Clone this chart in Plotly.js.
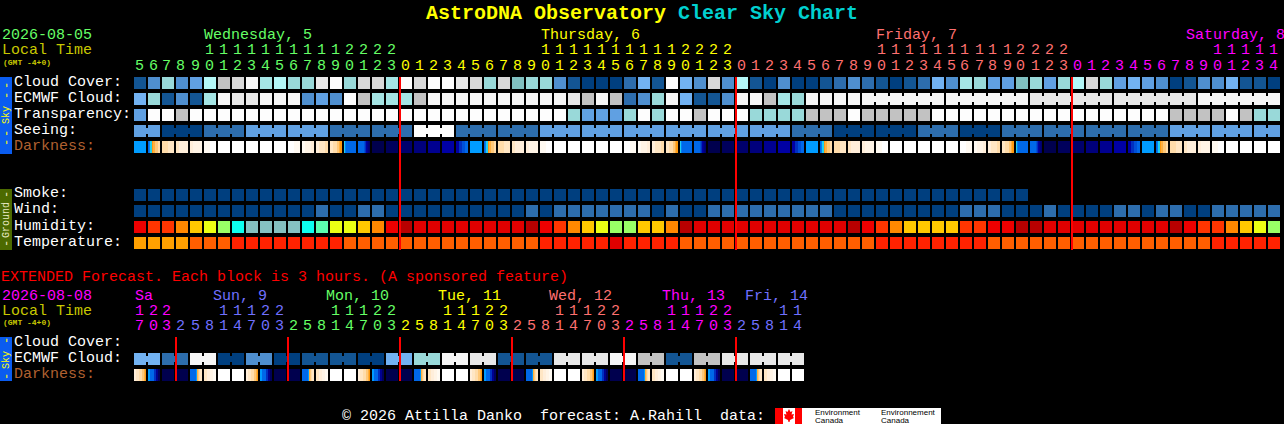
<!DOCTYPE html>
<html><head><meta charset="utf-8">
<script src="https://cdn.plot.ly/plotly-3.0.1.min.js"></script>
<style>html,body{margin:0;padding:0;background:#000;overflow:hidden}#c{width:1284px;height:424px}</style>
</head><body><div id="c"></div>
<script>
// ---------- data ----------
const hours = [5,6,7,8,9,10,11,12,13,14,15,16,17,18,19,20,21,22,23,
 0,1,2,3,4,5,6,7,8,9,10,11,12,13,14,15,16,17,18,19,20,21,22,23,
 0,1,2,3,4,5,6,7,8,9,10,11,12,13,14,15,16,17,18,19,20,21,22,23,
 0,1,2,3,4,5,6,7,8,9,10,11,12,13,14];
const extHours = [17,20,23, 2,5,8,11,14,17,20,23, 2,5,8,11,14,17,20,23, 2,5,8,11,14,17,20,23,
 2,5,8,11,14,17,20,23, 2,5,8,11,14,17,20,23, 2,5,8,11,14];
const cloud = [13,11,7,11,10,5,4,3,1,6,5,7,7,2,0,7,3,3,6,0,3,
 0,0,2,3,7,3,8,7,7,11,13,14,14,14,12,9,13,0,9,11,3,11,5,13,14,11,14,14,13,12,11,
 12,13,14,13,12,9,11,6,7,10,10,8,7,10,7,5,3,7,10,9,10,11,14,13,11,11,9,13,13,14];
const ecmwf = [9,7,13,11,13,6,1,2,2,1,1,1,11,10,11,0,4,6,6,6,4,
 1,1,1,1,1,1,1,1,1,1,2,4,1,4,12,11,7,1,9,13,13,11,1,1,4,6,7,1,1,1,1,
 1,1,1,1,1,1, 1,1,1,1,1,1, 2,2,2,2,2,2, 2,2,2,2,2,2, 1,1,1,1,1,1];
const ecmwfMerged = [[52,57],[58,63],[64,69],[70,75],[76,81]];
const transparency = [10,0,0,4,0,0,0,0,0,0,0,0,0,0,0,0,0,0,0,0,0,
 0,0,0,0,0,0,0,0,0,0,7,10,10,10,7,0,7,0,0,4,0,0,0,7,7,7,7,4,4,4,0,
 4,4,4,4,4,0,0,0,0,0,0,0,0,0,0,0,0,0,0,0,0,0,4,4,4,4,0,4,7,7];
const seeing = [10,10, 14,14,14, 12,12,12, 10,10,10, 10,10,10, 12,12,12, 12,12,12, 0,0,0,
 12,12,12, 12,12,12, 10,10,10, 10,10,10, 10,10,10, 10,10,10, 10,10,10, 10,10,10, 12,12,12,
 14,14,14, 14,14,14, 12,12,12, 14,14,14, 12,12,12, 12,12,12, 12,12,12, 12,12,12,
 10,10,10, 10,10,10, 10,10];
const seeingMerged = [[0,1],[2,4],[5,7],[8,10],[11,13],[14,16],[17,19],[20,22],[23,25],[26,28],
 [29,31],[32,34],[35,37],[38,40],[41,43],[44,46],[47,49],[50,52],[53,55],[56,58],[59,61],
 [62,64],[65,67],[68,70],[71,73],[74,76],[77,79],[80,81]];
const smoke = [14,14,14,14,14,14,14,14,14,14,14,14,14,14,14,14,14,14,14,14,14,14,14,14,14,14,14,14,14,14,14,14,
 14,14,14,14,14,14,14,14,14,14,14,14,14,14,14,14,14,14,14,14,14,14,14,14,14,14,14,14,14,14,14,14];
const wind = [14,14,14,14,14,14,14,14,14,14,14,14,14,12,14,14,12,12,14,14,14,
 14,14,14,14,14,14,14,12,14,12,12,12,12,12,12,12,14,12,14,14,12,12,12,12,12,12,12,12,12,14,14,
 14,14,14,14,14,14,14,12,12,12,14,14,14,12,14,14,14,14,12,12,14,12,12,14,14,12,12,12,12,12];
const humidity = [2,3,3,4,5,6,7,9,10,10,10,10,9,8,6,6,5,4,2,0,1,
 1,1,1,1,1,1,1,0,2,3,4,5,6,7,7,5,5,4,0,1,1,1,1,1,1,1,1,1,1,1,0,
 2,3,4,5,5,5,5,3,3,2,2,0,0,1,1,1,1,1,1,1,1,1,0,2,3,3,4,5,6,7];
const temperature = [0,0,0,0,1,1,1,2,2,2,2,2,2,2,2,1,1,1,1,1,1,
 1,1,1,1,1,1,1,1,2,2,2,2,2,3,2,2,2,2,1,1,1,1,1,1,1,1,1,1,1,1,1,
 1,2,2,2,2,2,2,2,2,1,1,1,1,1,1,1,1,1,1,1,1,1,1,1,1,2,2,2,2,2];
const extEcmwf = [9,9,12,12,1,1,14,14,11,11,14,14,13,13,13,13,14,14,9,9,7,7,1,1,2,2,13,13,13,13,2,2,2,2,1,1,4,4,13,13,4,4,2,2,2,2,2,2];
const extMerged = [[0,1],[2,3],[4,5],[6,7],[8,9],[10,11],[12,13],[14,15],[16,17],[18,19],[20,21],[22,23],
 [24,25],[26,27],[28,29],[30,31],[32,33],[34,35],[36,37],[38,39],[40,41],[42,43],[44,45],[46,47]];

// darkness: each cell is a list of equal strips of darkness levels
const W=[20],N0=[0],N1=[1],N2=[2],N3=[3],N4=[4],N5=[5],B=[10];
const RISE=[8,9,11,11,12,13,13,14,14,14,15,15], C2=[15,15,16,16], C3=[16,17,17,17], C4=[17,18,18,18], C5=[19,19,20,20];
const E1=[20,20,19,19], E2=[19,18,18,17], E3=[17,16,16,15], SET=[16,16,16,15,15,15,15,14,14,13,12,12];
const S1=[11,9,8,8,8,8,8,8,8,8,8,8], S2=[8,8,8,8,8,8,7,6,5,4,3,2], P1=[5,5,5,6,6,6,7,7,7,8,8,8];
const darkness = [B,RISE,C2,C3,C4,C5,W,W,W,W,W,E1,E2,E3,SET,S1,S2,N0,N1,N2,N3,N4,N5,P1,B,
 RISE,C2,C3,C4,C5,W,W,W,W,W,E1,E2,E3,SET,S1,S2,N0,N1,N2,N3,N4,N5,P1,B,
 RISE,C2,C3,C4,C5,W,W,W,W,W,E1,E2,E3,SET,S1,S2,N0,N1,N2,N3,N4,N5,P1,B,
 RISE,C2,C3,C4,C5,W,W,W,W];
const XE=[17,17,16,16,16,15,15,15,14,14,13,12], XS=[10,10,8,8,8,8,6,6,4,4,1,1], XR=[8,8,8,8,8,8,10,13,14,15,16,16], XC=[16,17,18,19];
const extDarkness = [XE,XS,N0,N0,XR,XC,W,W, XE,XS,N0,N0,XR,XC,W,W, XE,XS,N0,N0,XR,XC,W,W,
 XE,XS,N0,N0,XR,XC,W,W, XE,XS,N0,N0,XR,XC,W,W, XE,XS,N0,N0,XR,XC,W,W];

const mainDays = ["Wednesday, 5","Thursday, 6","Friday, 7","Saturday, 8"];
const extDays = ["Sa","Sun, 9","Mon, 10","Tue, 11","Wed, 12","Thu, 13","Fri, 14"];
const skyLabels = ["Cloud Cover:","ECMWF Cloud:","Transparency:","Seeing:","Darkness:"];
const groundLabels = ["Smoke:","Wind:","Humidity:","Temperature:"];
const extLabels = ["Cloud Cover:","ECMWF Cloud:","Darkness:"];

// ---------- styles ----------
const cloudPal = ['#fdfdfd','#f6f6f6','#e8e8e8','#d8d8d8','#c2c2c2','#b3f7f7','#a5e5e5','#99d9d9','#80c0c0',
 '#72b2f2','#60a0e2','#4f8fcf','#2d6dad','#135593','#003f7f'];
const humPal = ['#b80000','#e00000','#ee0000','#ff3500','#ff8800','#ffc800','#ebff14','#99ff66','#5cffb0','#0dffef','#85c1c1'];
const tempPal = ['#ffa000','#ff5e00','#ff2200','#e00000'];
const darkPal = ['#00004e','#00005c','#00006c','#00007c','#000090','#0000a4','#0030c0','#0050d8','#0068e8','#0080f4','#009cff',
 '#20d0f0','#ff9a10','#ffb040','#ffc878','#ffdcaa','#ffe6c4','#ffeeda','#fff4e6','#fffaf2','#ffffff'];
const GREEN='#66ff66',YEL='#ffff00',SAL='#ff7070',MAG='#ff00ff',BLU='#7070ff';
const mainDayColors=[GREEN,YEL,SAL,MAG];
const extDayColors=[MAG,BLU,GREEN,YEL,SAL,MAG,BLU];
const mainDayX=[204,541,876,1186], extDayX=[135,213,326,438,549,662,745];
const FONT='"Liberation Mono", monospace';

const W_PX=1284,H_PX=424,CELL=14,ROW=16,X0=134,Y0=77;
const px=x=>x/W_PX, py=y=>1-y/H_PX;
const cw=12/CELL, rh=12/ROW;

const traces=[];
function addBars(xs,bases,widths,heights,colors){
  traces.push({type:'bar',x:xs,base:bases,y:heights,width:widths,
    marker:{color:colors,line:{width:0}},hoverinfo:'skip',showlegend:false});
}
function addRow(vals,pal,r,merged){
  addBars(vals.map((v,i)=>i+cw/2),vals.map(()=>r),vals.map(()=>cw),vals.map(()=>rh),vals.map(v=>pal[v]));
  if(merged){
    const xs=[],cs=[];
    merged.forEach(([a,b])=>{for(let i=a;i<b;i++){xs.push(i+cw+1/CELL);cs.push(pal[vals[i]]);}});
    addBars(xs,xs.map(()=>r+3/ROW),xs.map(()=>2/CELL),xs.map(()=>6/ROW),cs);
  }
}
function addStrips(cells,r){
  const xs=[],ws=[],cs=[];
  cells.forEach((strips,i)=>{const w=cw/strips.length;
    strips.forEach((lv,k)=>{xs.push(i+w*(k+0.5));ws.push(w);cs.push(darkPal[lv]);});});
  addBars(xs,xs.map(()=>r),ws,xs.map(()=>rh),cs);
}
addRow(cloud,cloudPal,0);
addRow(ecmwf,cloudPal,1,ecmwfMerged);
addRow(transparency,cloudPal,2);
addRow(seeing,cloudPal,3,seeingMerged);
addStrips(darkness,4);
addRow(smoke,cloudPal,7);
addRow(wind,cloudPal,8);
addRow(humidity,humPal,9);
addRow(temperature,tempPal,10);
const R_EXT=(337-Y0)/ROW;
addRow(extEcmwf,cloudPal,R_EXT+1,extMerged);
addStrips(extDarkness,R_EXT+2);

// ---------- text ----------
const ann=[];
function T(text,x,y,color,o){o=o||{};
  ann.push({text:text,xref:'paper',yref:'paper',x:px(o.angle?x:x-1),y:py(y),xanchor:o.anchor||'left',yanchor:'middle',
    showarrow:false,borderpad:0,textangle:o.angle||0,
    font:{family:o.family||FONT,size:o.size||15,color:color}});
}
function hourLabels(list,colors,yTens,yUnits){
  let d=0;const bounds=[];
  list.forEach((h,i)=>{
    if(i>0&&h<list[i-1]){d++;bounds.push(i);}
    const cx=X0+CELL*i+6;
    if(h>=10)T(String(Math.floor(h/10)),cx,yTens,colors[d],{anchor:'center'});
    T(String(h%10),cx,yUnits,colors[d],{anchor:'center'});
  });
  return bounds;
}
const mainBounds=hourLabels(hours,mainDayColors,51,66);
const extBounds=hourLabels(extHours,extDayColors,311,326);
mainDays.forEach((s,i)=>T(s,mainDayX[i],36,mainDayColors[i]));
extDays.forEach((s,i)=>T(s,extDayX[i],296,extDayColors[i]));
T("2026-08-05",2,36,GREEN);
T("Local Time",2,51,'#c8c800');
T("<b>(GMT -4+0)</b>",3,62,'#c8c800',{size:8});
const labelY=[82,98,114,130,146];
skyLabels.forEach((s,i)=>T(s,14,labelY[i],i==4?'#b06030':'#ffffff'));
const gY=[194,210,226,242];
groundLabels.forEach((s,i)=>T(s,14,gY[i],'#ffffff'));
T("EXTENDED Forecast. Each block is 3 hours. (A sponsored feature)",0.5,277,'#ff0000');
T("2026-08-08",2,296,MAG);
T("Local Time",2,311,'#c8c800');
T("<b>(GMT -4+0)</b>",3,322,'#c8c800',{size:8});
const eY=[342,358,374];
extLabels.forEach((s,i)=>T(s,14,eY[i],i==2?'#b06030':'#ffffff'));
T("© 2026 Attilla Danko  forecast: A.Rahill  data:",342,416,'#ffffff');
// side bands
const side={anchor:'center',angle:-90,size:12};
[86,96,134,143].forEach(y=>T("-",7,y,YEL,side));
T("Sky",6,115,YEL,{anchor:'center',angle:-90,size:10});
T("-",7,195,'#e8e8c0',side);
T("Ground",6,220,'#e8e8c0',{anchor:'center',angle:-90,size:10});
T("-",7,244,'#e8e8c0',side);
T("-",7,341,YEL,side);
T("Sky",6,360,YEL,{anchor:'center',angle:-90,size:10});
T("-",7,377,YEL,side);
// logo text
const SANS='"Liberation Sans", sans-serif';
T("Environment",815,412,'#000000',{size:8,family:SANS});
T("Canada",815,420,'#000000',{size:8,family:SANS});
T("Environnement",881,412,'#000000',{size:8,family:SANS});
T("Canada",881,420,'#000000',{size:8,family:SANS});

// ---------- red day-boundary markers (drawn last, over the rows) ----------
const redW=2/CELL;
addBars(mainBounds,mainBounds.map(()=>0),mainBounds.map(()=>redW),mainBounds.map(()=>(250-Y0)/ROW),mainBounds.map(()=>'#ff0000'));
addBars(extBounds,extBounds.map(()=>R_EXT),extBounds.map(()=>redW),extBounds.map(()=>2+rh),extBounds.map(()=>'#ff0000'));

// ---------- shapes ----------
const shp=[];
function rect(x0,y0,x1,y1,c){shp.push({type:'rect',xref:'paper',yref:'paper',x0:px(x0),x1:px(x1),y0:py(y0),y1:py(y1),
  fillcolor:c,line:{width:0},layer:'below'});}
rect(0,77,12,154,'#0a5cf0');
rect(0,189,12,250,'#4c6a00');
rect(0,337,12,381,'#0a5cf0');
rect(775,408,941,424,'#ffffff');
rect(775,408,783,424,'#ff0000');
rect(795,408,802,424,'#ff0000');
const leaf=[[789,409],[790.5,412],[792.5,411],[791.5,414.5],[794,414],[793,417],[794,418],[790,420],[789.5,422],[788.5,422],[788,420],[784,418],[785,417],[784,414],[786.5,414.5],[785.5,411],[787.5,412]];
shp.push({type:'path',xref:'paper',yref:'paper',layer:'below',fillcolor:'#ff0000',line:{width:0},
  path:'M'+leaf.map(p=>px(p[0])+','+py(p[1])).join('L')+'Z'});

Plotly.newPlot('c',traces,{
  width:W_PX,height:H_PX,margin:{l:0,r:0,t:0,b:0,pad:0},
  paper_bgcolor:'#000000',plot_bgcolor:'rgba(0,0,0,0)',
  barmode:'overlay',showlegend:false,hovermode:false,
  title:{text:'<b><span style="color:#ffff00">AstroDNA Observatory</span> <span style="color:#00d0d0">Clear Sky Chart</span></b>',
    x:0.5,xanchor:'center',xref:'paper',y:py(12),yref:'paper',yanchor:'middle',automargin:false,
    font:{family:FONT,size:20,color:'#ffff00'}},
  xaxis:{range:[-X0/CELL,(W_PX-X0)/CELL],domain:[0,1],visible:false,fixedrange:true},
  yaxis:{range:[(H_PX-Y0)/ROW,-Y0/ROW],domain:[0,1],visible:false,fixedrange:true},
  annotations:ann,shapes:shp
},{staticPlot:true,displayModeBar:false});
</script></body></html>
